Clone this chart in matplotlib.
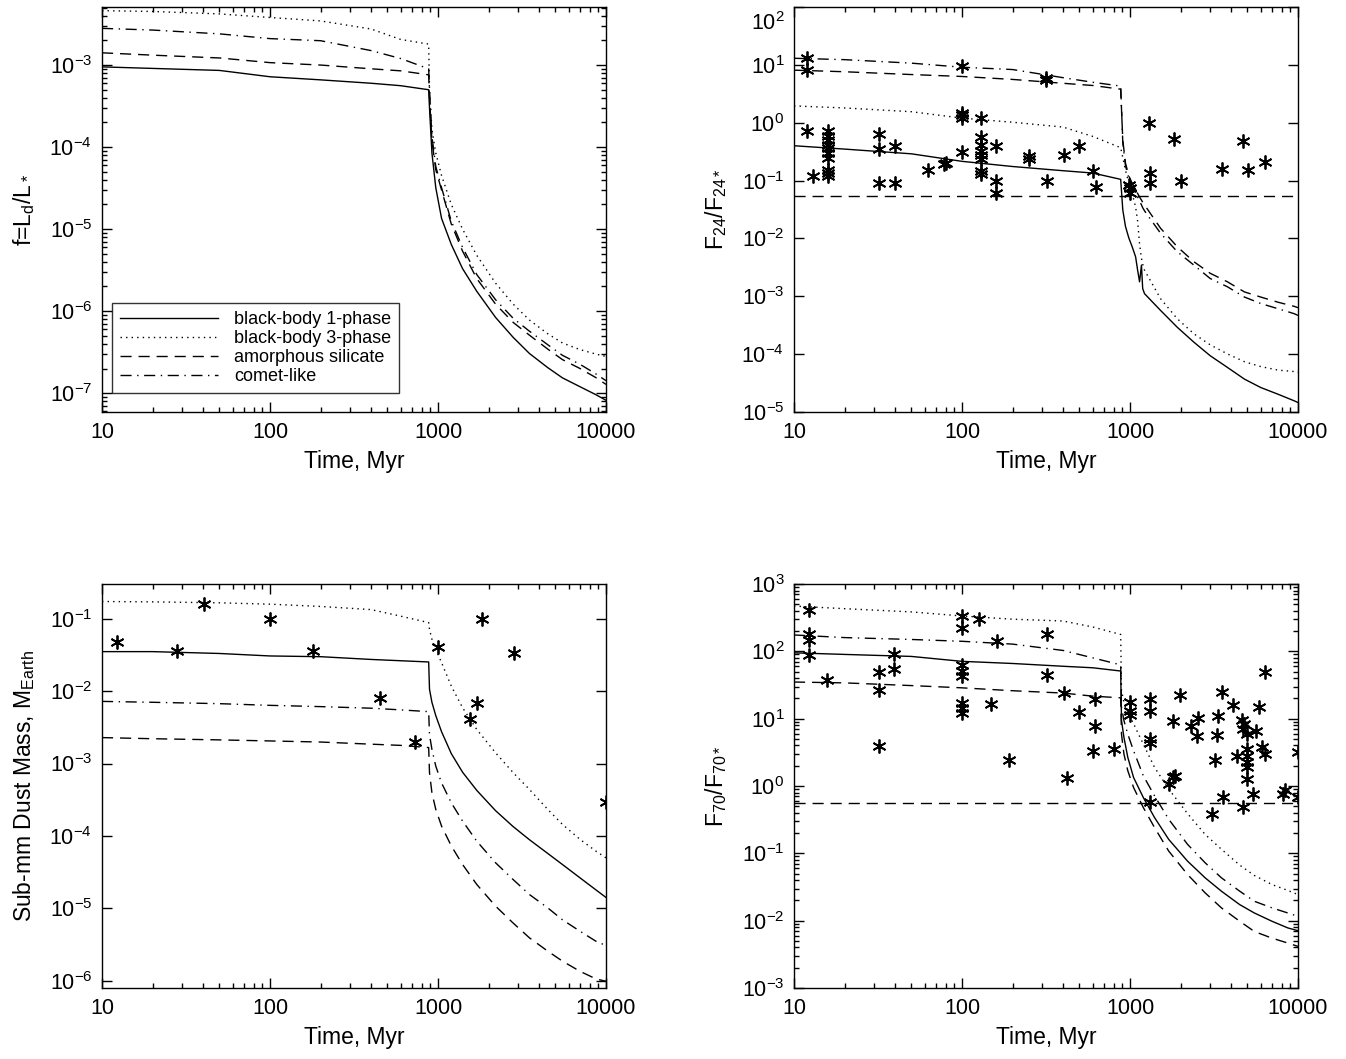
import numpy as np
import matplotlib
matplotlib.use('Agg')
import matplotlib.pyplot as plt
from matplotlib.ticker import LogLocator, NullLocator, FixedLocator, FixedFormatter, NullFormatter
from matplotlib.transforms import ScaledTranslation

plt.rcParams['font.family'] = ['Liberation Sans', 'DejaVu Sans']
plt.rcParams['mathtext.fontset'] = 'custom'
plt.rcParams['mathtext.rm'] = 'Liberation Sans'
plt.rcParams['mathtext.it'] = 'Liberation Sans:italic'
plt.rcParams['mathtext.bf'] = 'Liberation Sans:bold'

# ---- time grids (Myr) ----
T_PRE = [10, 20, 50, 100, 200, 400, 600, 880]
T_POST = [890, 920, 970, 1050, 1200, 1400, 1700, 2200, 2800, 3500, 4500, 5500, 7000, 8700, 10000]
T_POST_24 = [906, 940, 985, 1030, 1080, 1110, 1140, 1170, 1190, 1220, 1520, 1910, 2400, 3000,
             3800, 4800, 6000, 7600, 9500, 10000]

# ---- fractional luminosity f ----
f_bb1_pre = [9.5e-4, 9.1e-4, 8.6e-4, 7.2e-4, 6.6e-4, 6.0e-4, 5.6e-4, 5.0e-4]
f_bb1_post = [3.0e-4, 8.5e-5, 3.2e-5, 1.35e-5, 6.5e-6, 3.3e-6, 1.75e-6, 8.4e-7, 4.8e-7, 3.05e-7,
              2.05e-7, 1.54e-7, 1.2e-7, 9.6e-8, 8.2e-8]
f_bb3_pre = [4.6e-3, 4.5e-3, 4.2e-3, 3.8e-3, 3.45e-3, 2.75e-3, 2.05e-3, 1.8e-3]
f_bb3_post = [5e-4, 1.65e-4, 8.5e-5, 4.5e-5, 2.0e-5, 1.0e-5, 4.8e-6, 2.2e-6, 1.22e-6, 7.8e-7,
              5.3e-7, 4.1e-7, 3.4e-7, 3.0e-7, 2.8e-7]
f_sil_pre = [1.41e-3, 1.32e-3, 1.22e-3, 1.07e-3, 1.0e-3, 9.0e-4, 8.5e-4, 7.6e-4]
f_sil_post = [4e-4, 1.2e-4, 5.3e-5, 3.0e-5, 1.15e-5, 5.4e-6, 2.5e-6, 1.22e-6, 7.3e-7, 5.1e-7,
              3.45e-7, 2.57e-7, 2.0e-7, 1.55e-7, 1.28e-7]
f_com_pre = [2.8e-3, 2.67e-3, 2.4e-3, 2.1e-3, 1.98e-3, 1.5e-3, 1.2e-3, 9.0e-4]
f_com_post = [5e-4, 1.35e-4, 5.8e-5, 3.2e-5, 1.25e-5, 6.0e-6, 2.8e-6, 1.38e-6, 8.2e-7, 5.7e-7,
              3.9e-7, 2.9e-7, 2.25e-7, 1.72e-7, 1.42e-7]

# ---- 24 micron excess ----
r24_bb1_pre = [0.40, 0.35, 0.29, 0.215, 0.175, 0.148, 0.135, 0.105]
r24_bb1_post = [0.031, 0.0161, 0.0101, 7.2e-3, 4.8e-3, 2.83e-3, 1.78e-3, 3.46e-3, 1.36e-3, 1.11e-3,
                5.7e-4, 2.92e-4, 1.61e-4, 9.4e-5, 5.9e-5, 3.7e-5, 2.65e-5, 2.03e-5, 1.56e-5, 1.46e-5]
r24_bb3_pre = [1.95, 1.8, 1.55, 1.2, 1.02, 0.84, 0.58, 0.37]
r24_bb3_post = [0.25, 0.15, 0.09, 0.06, 0.035, 0.02, 8e-3, 4.5e-3, 3.6e-3, 2.83e-3,
                9.1e-4, 4.1e-4, 2.25e-4, 1.45e-4, 1.01e-4, 7.4e-5, 6.1e-5, 5.3e-5, 5.0e-5, 4.84e-5]
r24_sil_pre = [8.1, 7.6, 6.8, 6.3, 5.6, 4.8, 4.4, 3.8]
r24_sil_post = [0.5, 0.2, 0.12, 0.09, 0.07, 0.06, 0.052, 0.046, 0.042, 0.038,
                0.015, 7.2e-3, 3.96e-3, 2.5e-3, 1.78e-3, 1.19e-3, 9.7e-4, 7.9e-4, 6.7e-4, 6.35e-4]
r24_com_pre = [13.0, 12.3, 10.7, 9.1, 8.3, 6.0, 5.0, 4.3]
r24_com_post = [0.45, 0.18, 0.11, 0.08, 0.062, 0.052, 0.044, 0.038, 0.034, 0.03,
                0.0123, 5.9e-3, 3.46e-3, 2.03e-3, 1.46e-3, 9.7e-4, 7.5e-4, 6.1e-4, 5.0e-4, 4.67e-4]
r24_limit = 0.055
obs24_t = [12, 12, 12, 12.9, 16, 16, 16, 16, 16, 16, 16, 16, 16, 16,
           32, 32, 32, 40, 40, 63, 78, 80,
           100, 100, 100, 100, 100, 129, 129, 129, 129, 129, 129, 129, 129,
           159, 159, 159, 252, 252, 316, 316, 320, 405, 500, 601, 630,
           990, 1000, 1000, 1292, 1324, 1324, 1820, 2000, 3548, 4690, 5060, 6380]
obs24_r = [13.4, 8.1, 0.72, 0.119, 0.72, 0.6, 0.5, 0.42, 0.36, 0.3, 0.25, 0.155, 0.135, 0.118,
           0.63, 0.346, 0.092, 0.39, 0.092, 0.151, 0.19, 0.2,
           9.6, 1.5, 1.35, 1.2, 0.31, 1.22, 0.57, 0.42, 0.33, 0.28, 0.232, 0.146, 0.128,
           0.39, 0.1, 0.061, 0.27, 0.24, 6.0, 5.4, 0.1, 0.272, 0.395, 0.146, 0.078,
           0.085, 0.075, 0.062, 1.0, 0.136, 0.091, 0.53, 0.1, 0.161, 0.48, 0.151, 0.21]

# ---- sub-mm dust mass ----
m_bb1_pre = [0.035, 0.035, 0.033, 0.0305, 0.0298, 0.0273, 0.0262, 0.0252]
m_bb1_post = [0.0106, 7.0e-3, 4.58e-3, 2.75e-3, 1.37e-3, 7.6e-4, 4.27e-4, 2.24e-4, 1.35e-4, 8.9e-5,
              5.75e-5, 4.05e-5, 2.65e-5, 1.81e-5, 1.42e-5]
m_bb3_pre = [0.172, 0.17, 0.165, 0.158, 0.147, 0.133, 0.108, 0.088]
m_bb3_post = [0.071, 0.052, 0.0377, 0.0247, 0.0117, 5.9e-3, 2.96e-3, 1.41e-3, 7.5e-4, 4.4e-4,
              2.33e-4, 1.45e-4, 9.0e-5, 6.2e-5, 5.0e-5]
m_sil_pre = [2.28e-3, 2.2e-3, 2.12e-3, 2.05e-3, 1.98e-3, 1.85e-3, 1.78e-3, 1.66e-3]
m_sil_post = [7.5e-4, 3.95e-4, 2.33e-4, 1.37e-4, 7.3e-5, 4.05e-5, 2.15e-5, 1.08e-5, 6.3e-6, 3.94e-6,
              2.58e-6, 1.88e-6, 1.36e-6, 1.07e-6, 9.9e-7]
m_com_pre = [7.2e-3, 7.0e-3, 6.7e-3, 6.35e-3, 6.1e-3, 5.8e-3, 5.5e-3, 5.2e-3]
m_com_post = [2.5e-3, 1.57e-3, 9.2e-4, 5.4e-4, 2.87e-4, 1.61e-4, 8.5e-5, 4.28e-5, 2.51e-5, 1.56e-5,
              1.02e-5, 7.0e-6, 4.86e-6, 3.54e-6, 3.08e-6]
obsm_t = [12.2, 27.9, 40.2, 100, 181, 452, 727, 1004, 1546, 1703, 1828, 2826, 10000]
obsm_m = [0.0477, 0.0354, 0.161, 0.1, 0.0354, 8.0e-3, 2.0e-3, 0.0406, 4.07e-3, 6.9e-3, 0.098, 0.0339, 2.94e-4]

# ---- 70 micron excess ----
r70_bb1_pre = [95, 90, 84, 71, 66, 60, 57, 51]
r70_bb1_post = [9.4, 5.3, 2.67, 1.34, 0.675, 0.34, 0.161, 0.0766, 0.0433, 0.0274,
                0.0173, 0.0130, 9.8e-3, 7.8e-3, 7.1e-3]
r70_bb3_pre = [470, 430, 385, 335, 300, 282, 230, 178]
r70_bb3_post = [26.3, 17.6, 12.5, 8.4, 4.2, 1.89, 0.90, 0.389, 0.191, 0.115,
                0.0668, 0.0469, 0.0344, 0.0281, 0.0244]
r70_sil_pre = [35, 34, 31, 28.7, 26, 24, 21.6, 20.4]
r70_sil_post = [5.9, 2.99, 1.69, 0.95, 0.479, 0.241, 0.108, 0.0485, 0.0259, 0.0155,
                9.8e-3, 6.9e-3, 5.5e-3, 4.65e-3, 4.15e-3]
r70_com_pre = [175, 160, 150, 141, 128, 103, 80, 63]
r70_com_post = [14.9, 9.4, 5.9, 3.34, 1.42, 0.714, 0.321, 0.136, 0.0724, 0.0433,
                0.0274, 0.0194, 0.0155, 0.0130, 0.0116]
r70_limit = 0.55
obs70_t = [12.2, 12.2, 12.2, 12.2, 15.8, 32.2, 32.2, 32.2, 39.6, 39.6,
           100, 100, 100, 100, 100, 100, 100, 100,
           127, 148, 162, 190, 320, 320, 405, 422, 500, 601, 621, 621, 800,
           1002, 1002, 1002, 1309, 1309, 1309, 1321, 1321,
           1700, 1803, 1862, 1803, 1995, 2310, 2548, 2514,
           3060, 3202, 3275, 3334, 3540, 3590,
           4117, 4313, 4665, 4786, 4735, 5000, 5000, 5000, 5000, 5000, 5000, 4735, 5430, 5610,
           5868, 6145, 6344, 6344, 8091, 8395, 9950, 10000]
obs70_r = [410, 180, 145, 88, 38, 49, 27, 3.9, 92, 55,
           332, 223, 62, 51, 43, 17, 14.5, 12.2,
           303, 16.6, 141, 2.4, 182, 45, 24, 1.33, 12.7, 3.3, 19.7, 7.8, 3.5,
           17.6, 13.0, 11.5, 19.7, 13.2, 5.0, 4.4, 0.58,
           1.07, 1.34, 1.42, 9.1, 22.2, 7.9, 10.2, 5.6,
           0.38, 2.43, 5.8, 10.8, 24.8, 0.675,
           15.7, 2.76, 9.4, 8.4, 7.1, 5.9, 3.55, 2.82, 2.25, 1.89, 1.27, 0.48, 0.77, 6.65,
           14.8, 3.75, 2.98, 49, 0.77, 0.87, 3.16, 0.675]

LABELS = ['black-body 1-phase', 'black-body 3-phase', 'amorphous silicate', 'comet-like']
LINESTYLES = ['-', (0, (1, 3)), (0, (8, 5)), (0, (8, 4, 1, 4))]

W = 504 / 1346
L1, L2 = 102 / 1346, 794 / 1346
fig = plt.figure(figsize=(13.46, 10.59), dpi=100)
ax_f = fig.add_axes([L1, 1 - 412 / 1059, W, 405 / 1059])
ax_24 = fig.add_axes([L2, 1 - 412 / 1059, W, 405 / 1059])
ax_m = fig.add_axes([L1, 1 - 988 / 1059, W, 404 / 1059])
ax_70 = fig.add_axes([L2, 1 - 988 / 1059, W, 404 / 1059])


def draw_models(ax, t_post, pres, posts):
    for pre, post, ls, lab in zip(pres, posts, LINESTYLES, LABELS):
        ax.plot(T_PRE + t_post, pre + post, color='k', lw=1.0, ls=ls, label=lab)


def style_axes(ax, ylim, ylabel, minor_y=True):
    ax.set_xscale('log')
    ax.set_yscale('log')
    ax.set_xlim(10, 10000)
    ax.set_ylim(*ylim)
    ax.xaxis.set_major_locator(FixedLocator([10, 100, 1000, 10000]))
    ax.xaxis.set_major_formatter(FixedFormatter(['10', '100', '1000', '10000']))
    ax.xaxis.set_minor_locator(LogLocator(base=10, subs=np.arange(2, 10)))
    ax.xaxis.set_minor_formatter(NullFormatter())
    ax.yaxis.set_major_locator(LogLocator(base=10, numticks=20))
    if minor_y:
        ax.yaxis.set_minor_locator(LogLocator(base=10, subs=np.arange(2, 10), numticks=20))
    else:
        ax.yaxis.set_minor_locator(NullLocator())
    ax.yaxis.set_minor_formatter(NullFormatter())
    ax.tick_params(which='both', direction='in', top=True, right=True, labelsize=15.5, width=1.0)
    ax.tick_params(which='major', length=7.5, pad=7)
    ax.tick_params(which='minor', length=3.6)
    for sp in ax.spines.values():
        sp.set_linewidth(1.0)
    ax.set_xlabel('Time, Myr', fontsize=16.5, labelpad=5)
    ax.set_ylabel(ylabel, fontsize=16.5, labelpad=9)


def draw_obs(ax, t, v):
    ax.plot(t, v, ls='none', marker=(6, 2, 0), ms=10, mew=1.3, color='k')


draw_models(ax_f, T_POST, [f_bb1_pre, f_bb3_pre, f_sil_pre, f_com_pre],
            [f_bb1_post, f_bb3_post, f_sil_post, f_com_post])
style_axes(ax_f, (5.9e-8, 5.1e-3), r'f=L$_\mathrm{d}$/L$_*$')
leg = ax_f.legend(loc='lower left', bbox_to_anchor=(0.02, 0.047), borderaxespad=0,
                  fontsize=13, frameon=True, fancybox=False, edgecolor='k',
                  handlelength=5.4, handletextpad=0.9, labelspacing=0.1, borderpad=0.45)
leg.get_frame().set_linewidth(1.0)

draw_models(ax_24, T_POST_24, [r24_bb1_pre, r24_bb3_pre, r24_sil_pre, r24_com_pre],
            [r24_bb1_post, r24_bb3_post, r24_sil_post, r24_com_post])
ax_24.axhline(r24_limit, color='k', lw=1.0, ls=(0, (8, 5)))
draw_obs(ax_24, obs24_t, obs24_r)
style_axes(ax_24, (1e-5, 100), r'F$_\mathrm{24}$/F$_\mathrm{24*}$', minor_y=False)

draw_models(ax_m, T_POST, [m_bb1_pre, m_bb3_pre, m_sil_pre, m_com_pre],
            [m_bb1_post, m_bb3_post, m_sil_post, m_com_post])
draw_obs(ax_m, obsm_t, obsm_m)
style_axes(ax_m, (8e-7, 0.30), r'Sub-mm Dust Mass, M$_\mathrm{Earth}$', minor_y=False)

draw_models(ax_70, T_POST, [r70_bb1_pre, r70_bb3_pre, r70_sil_pre, r70_com_pre],
            [r70_bb1_post, r70_bb3_post, r70_sil_post, r70_com_post])
ax_70.axhline(r70_limit, color='k', lw=1.0, ls=(0, (8, 5)))
draw_obs(ax_70, obs70_t, obs70_r)
style_axes(ax_70, (1e-3, 1e3), r'F$_\mathrm{70}$/F$_\mathrm{70*}$')

# keep the topmost label of the 24 micron panel inside the figure, as IDL does
fig.canvas.draw()
nudge = ScaledTranslation(0, -10 / 72, fig.dpi_scale_trans)
for tick in ax_24.yaxis.get_major_ticks():
    if abs(tick.get_loc() - 100) < 1e-6:
        tick.label1.set_transform(tick.label1.get_transform() + nudge)

fig.savefig('out.png', dpi=100)
